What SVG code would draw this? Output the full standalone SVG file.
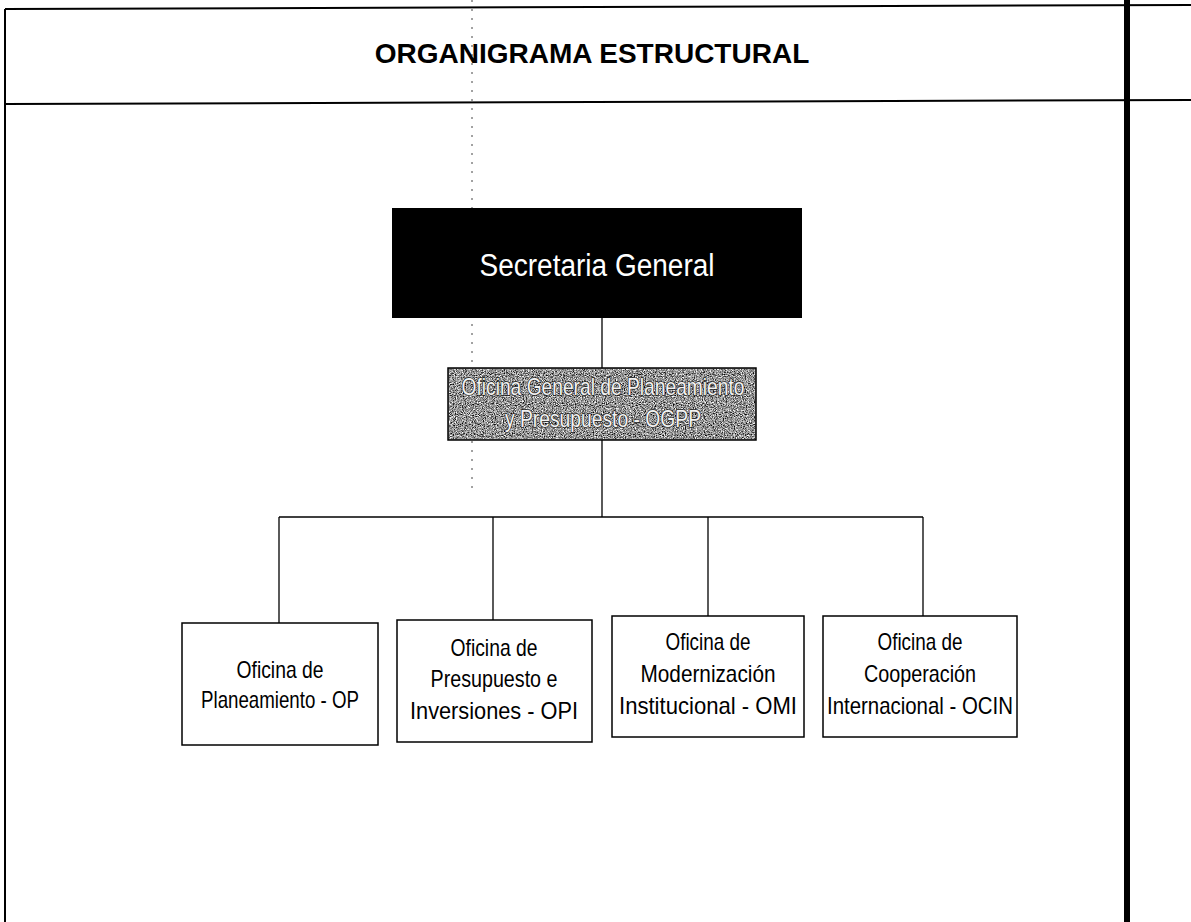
<svg xmlns="http://www.w3.org/2000/svg" width="1191" height="922" viewBox="0 0 1191 922">
<style>
.frame{stroke:#000;fill:none}
.box{fill:#fff;stroke:#000;stroke-width:1.5}
.conn{stroke:#000;stroke-width:1.3;fill:none}
.leaf{font-family:"Liberation Sans",Arial,sans-serif;font-size:24px;fill:#000;text-anchor:middle}
.title{font-family:"Liberation Sans",Arial,sans-serif;font-size:28px;font-weight:bold;fill:#000;text-anchor:middle}
.sg{font-family:"Liberation Sans",Arial,sans-serif;font-size:31px;fill:#fff;text-anchor:middle}
.ogpp{font-family:"Liberation Sans",Arial,sans-serif;font-size:24px;fill:#f2f2f2;stroke:#222;stroke-width:1.4;paint-order:stroke;text-anchor:middle}
</style>
<defs>
<filter id="speckle-w" x="0" y="0" width="1" height="1">
<feTurbulence type="fractalNoise" baseFrequency="0.85" numOctaves="1" seed="5"/>
<feColorMatrix type="matrix" values="0 0 0 0 1  0 0 0 0 1  0 0 0 0 1  3.2 0 0 0 -1.3"/>
</filter>
<filter id="speckle-k" x="0" y="0" width="1" height="1">
<feTurbulence type="fractalNoise" baseFrequency="0.9" numOctaves="1" seed="11"/>
<feColorMatrix type="matrix" values="0 0 0 0 0  0 0 0 0 0  0 0 0 0 0  3.2 0 0 0 -1.45"/>
</filter>
</defs>
<rect width="1191" height="922" fill="#fff"/>
<g id="frame">
<line class="frame" x1="5" y1="9" x2="1191" y2="5" stroke-width="2"/>
<line class="frame" x1="5" y1="104" x2="1191" y2="100" stroke-width="2"/>
<line class="frame" x1="5" y1="9" x2="5" y2="922" stroke-width="2"/>
<line class="frame" x1="1127" y1="0" x2="1127" y2="922" stroke-width="6"/>
<line x1="472" y1="0" x2="472" y2="490" stroke="#444" stroke-width="1" stroke-dasharray="2 7"/>
</g>
<g id="title">
<text class="title" x="592" y="63">ORGANIGRAMA ESTRUCTURAL</text>
</g>
<g id="connectors">
<line class="conn" x1="602" y1="318" x2="602" y2="368"/>
<line class="conn" x1="602" y1="440" x2="602" y2="517"/>
<line class="conn" x1="279" y1="517" x2="923" y2="517"/>
<line class="conn" x1="279" y1="517" x2="279" y2="623"/>
<line class="conn" x1="493" y1="517" x2="493" y2="620"/>
<line class="conn" x1="708" y1="517" x2="708" y2="616"/>
<line class="conn" x1="923" y1="517" x2="923" y2="616"/>
</g>
<g id="secretaria-general">
<rect x="392" y="208" width="410" height="110" fill="#000"/>
<text class="sg" x="597" y="276" textLength="235" lengthAdjust="spacingAndGlyphs">Secretaria General</text>
</g>
<g id="ogpp">
<rect x="448" y="368" width="308" height="72" fill="#969696" stroke="#000" stroke-width="1.5"/>
<rect x="449" y="369" width="306" height="70" fill="#fff" filter="url(#speckle-w)"/>
<rect x="449" y="369" width="306" height="70" fill="#fff" filter="url(#speckle-k)"/>
<text class="ogpp" x="603" y="395" textLength="283" lengthAdjust="spacingAndGlyphs">Oficina General de Planeamiento</text>
<text class="ogpp" x="603" y="427" textLength="196" lengthAdjust="spacingAndGlyphs">y Presupuesto - OGPP</text>
</g>
<g id="op">
<rect class="box" x="182" y="623" width="196" height="122"/>
<text class="leaf" x="280" y="678" textLength="87" lengthAdjust="spacingAndGlyphs">Oficina de</text>
<text class="leaf" x="280" y="708" textLength="158" lengthAdjust="spacingAndGlyphs">Planeamiento - OP</text>
</g>
<g id="opi">
<rect class="box" x="397" y="620" width="195" height="122"/>
<text class="leaf" x="494" y="656" textLength="87" lengthAdjust="spacingAndGlyphs">Oficina de</text>
<text class="leaf" x="494" y="687" textLength="127" lengthAdjust="spacingAndGlyphs">Presupuesto e</text>
<text class="leaf" x="494" y="719" textLength="168" lengthAdjust="spacingAndGlyphs">Inversiones - OPI</text>
</g>
<g id="omi">
<rect class="box" x="612" y="616" width="192" height="121"/>
<text class="leaf" x="708" y="650" textLength="85" lengthAdjust="spacingAndGlyphs">Oficina de</text>
<text class="leaf" x="708" y="682" textLength="135" lengthAdjust="spacingAndGlyphs">Modernización</text>
<text class="leaf" x="708" y="714" textLength="178" lengthAdjust="spacingAndGlyphs">Institucional - OMI</text>
</g>
<g id="ocin">
<rect class="box" x="823" y="616" width="194" height="121"/>
<text class="leaf" x="920" y="650" textLength="85" lengthAdjust="spacingAndGlyphs">Oficina de</text>
<text class="leaf" x="920" y="682" textLength="112" lengthAdjust="spacingAndGlyphs">Cooperación</text>
<text class="leaf" x="920" y="714" textLength="186" lengthAdjust="spacingAndGlyphs">Internacional - OCIN</text>
</g>
</svg>
